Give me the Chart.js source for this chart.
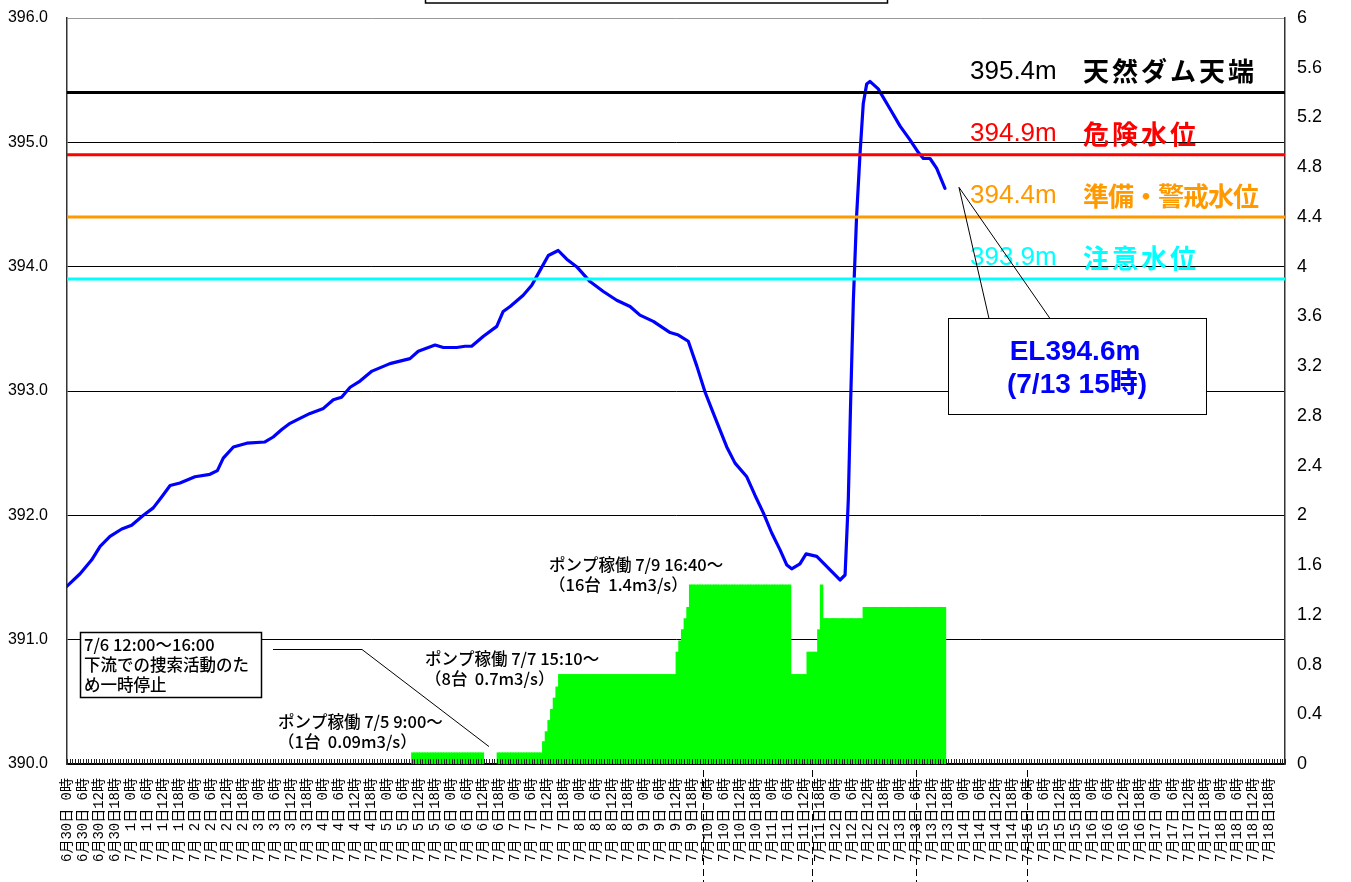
<!DOCTYPE html>
<html>
<head>
<meta charset="utf-8">
<script src="https://cdn.jsdelivr.net/npm/chart.js@4.4.0/dist/chart.umd.min.js"></script>
<style>
  html, body { margin: 0; padding: 0; background: #fff; }
</style>
</head>
<body>
<canvas id="damChart" width="1351" height="882"></canvas>
<script>
/* eslint-disable no-undef */
// 水位 (時間は 6/30 0時 からの経過時間)
const levelHours = [0, 4.9, 9.2, 12.4, 16.1, 20.5, 24.2, 28.6, 32.3, 35.5,
  38.6, 42.3, 47.9, 53.5, 56.3, 58.5, 62.3, 67.3, 74.1, 77.2,
  80.4, 83.5, 87.2, 91.0, 96.0, 99.7, 102.8, 106.0, 109.7, 114.2,
  120.9, 128.4, 131.5, 137.8, 140.9, 145.9, 149.0, 151.5, 155.9, 160.9,
  163.3, 165.9, 170.8, 174.0, 177.1, 180.2, 183.9, 187.1, 190.8, 195.8,
  200.8, 205.8, 210.8, 214.5, 219.5, 225.8, 228.9, 232.6, 235.8, 238.9,
  242.0, 247.0, 250.1, 254.5, 257.6, 260.7, 263.8, 267.0, 269.5, 271.3,
  274.4, 276.7, 280.7, 284.4, 289.4, 291.3, 292.5, 293.4, 294.4, 295.6,
  296.9, 298.1, 299.4, 300.6, 303.7, 308.1, 311.9, 315.6, 318.7, 320.6,
  323.1, 325.6, 328.7]
const levelValues = [391.43, 391.53, 391.64, 391.75, 391.83, 391.89, 391.92, 392.00, 392.06, 392.15,
  392.24, 392.26, 392.31, 392.33, 392.36, 392.46, 392.55, 392.58, 392.59, 392.63,
  392.69, 392.74, 392.78, 392.82, 392.86, 392.93, 392.95, 393.03, 393.08, 393.16,
  393.22, 393.26, 393.32, 393.37, 393.35, 393.35, 393.36, 393.36, 393.44, 393.52,
  393.64, 393.68, 393.77, 393.85, 393.97, 394.09, 394.13, 394.06, 394.00, 393.88,
  393.80, 393.73, 393.68, 393.61, 393.56, 393.47, 393.45, 393.40, 393.20, 392.99,
  392.82, 392.55, 392.42, 392.31, 392.16, 392.02, 391.86, 391.72, 391.60, 391.57,
  391.61, 391.69, 391.67, 391.59, 391.48, 391.52, 392.12, 392.93, 393.73, 394.40,
  394.91, 395.31, 395.47, 395.49, 395.43, 395.27, 395.13, 395.02, 394.92, 394.87,
  394.87, 394.79, 394.63]

// ポンプ排水量 (m3/s) : 変化した時刻とその後の値
const pumpStartHours = [129, 156, 161, 178, 179, 180, 181, 182, 183, 184, 228, 229, 230, 231, 232, 233, 271, 277, 281, 282, 283, 298, 329]
const pumpFlows = [0.09, 0, 0.09, 0.18, 0.26, 0.35, 0.44, 0.53, 0.62, 0.72, 0.9, 0.99, 1.08, 1.17, 1.26, 1.44, 0.72, 0.9, 1.08, 1.44, 1.17, 1.26, 0]

// 基準水位
const thresholdValues = [395.4, 394.9, 394.4, 393.9]
const thresholdNames = ['天然ダム天端', '危険水位', '準備・警戒水位', '注意水位']
const thresholdColors = ['#000000', '#ff0000', '#ff9900', '#00ffff']

// 軸
const dayLabels = ['6月30日', '7月 1日', '7月 2日', '7月 3日', '7月 4日', '7月 5日', '7月 6日', '7月 7日', '7月 8日', '7月 9日',
  '7月10日', '7月11日', '7月12日', '7月13日', '7月14日', '7月15日', '7月16日', '7月17日', '7月18日']
const hourLabels = [' 0', ' 6', '12', '18']
const leftTicks = [390, 391, 392, 393, 394, 395, 396]
const rightTicks = [0, 0.4, 0.8, 1.2, 1.6, 2, 2.4, 2.8, 3.2, 3.6, 4, 4.4, 4.8, 5.2, 5.6, 6]
const markHours = [238, 279, 318, 359.5]

const xTickLabels = []
const xTickHours = []
dayLabels.forEach((d, i) => {
  hourLabels.forEach((hh, j) => {
    xTickLabels.push(d + hh + '時')
    xTickHours.push(i * 24 + j * 6)
  })
})

// ポンプを1時間ごとの棒にする
const pumpBars = []
for (let i = 0; i < pumpStartHours.length - 1; i++) {
  for (let h = pumpStartHours[i]; h < pumpStartHours[i + 1]; h++) {
    if (pumpFlows[i] > 0) pumpBars.push({ x: h + 0.5, y: pumpFlows[i] })
  }
}

const levelPoints = levelHours.map((h, i) => ({ x: h, y: levelValues[i] }))

const JP = "'Noto Sans CJK JP', sans-serif"

function drawLines (ctx, lines, x, y, lh) {
  lines.forEach((t, i) => ctx.fillText(t, x, y + i * lh))
}

const decor = {
  id: 'decor',
  afterDatasetsDraw (chart) {
    const { ctx, chartArea: a, scales: { x } } = chart
    ctx.save()
    ctx.strokeStyle = '#222'
    ctx.lineWidth = 1
    ctx.beginPath()
    for (let h = 0; h <= 456; h++) {
      const px = Math.round(x.getPixelForValue(h)) + 0.5
      ctx.moveTo(px, a.bottom)
      ctx.lineTo(px, a.bottom - 5)
    }
    ctx.stroke()
    ctx.restore()
  },
  afterDraw (chart) {
    const { ctx, chartArea: a, scales: { x, y, y2 } } = chart
    ctx.save()

    // タイトル枠の下端
    ctx.strokeStyle = '#000'
    ctx.lineWidth = 1.5
    ctx.strokeRect(425.5, -10, 462, 13)

    // 日付の破線
    ctx.setLineDash([7, 4])
    ctx.lineWidth = 1
    markHours.forEach(h => {
      const px = Math.round(x.getPixelForValue(h)) + 0.5
      ctx.beginPath()
      ctx.moveTo(px, a.bottom + 6)
      ctx.lineTo(px, 882)
      ctx.stroke()
    })
    ctx.setLineDash([])

    // 基準水位の文字
    ctx.textBaseline = 'middle'
    thresholdValues.forEach((v, i) => {
      const py = y.getPixelForValue(v) - 21
      ctx.fillStyle = thresholdColors[i]
      ctx.letterSpacing = '0px'
      ctx.font = "26px 'Liberation Sans', sans-serif"
      ctx.fillText(v.toFixed(1) + 'm', 970, py)
      ctx.font = 'bold 26px ' + JP
      ctx.letterSpacing = thresholdNames[i].includes('・') ? '-1px' : '3px'
      ctx.fillText(thresholdNames[i], 1083, py)
    })
    ctx.letterSpacing = '0px'

    // 現在水位の吹き出し
    const last = levelPoints.length - 1
    const tipX = x.getPixelForValue(levelHours[last]) + 14
    const tipY = y.getPixelForValue(levelValues[last]) - 1
    ctx.fillStyle = '#fff'
    ctx.strokeStyle = '#000'
    ctx.lineWidth = 1
    ctx.fillRect(948.5, 318.5, 258, 96)
    ctx.strokeRect(948.5, 318.5, 258, 96)
    ctx.beginPath()
    ctx.moveTo(989, 318.5)
    ctx.lineTo(tipX, tipY)
    ctx.lineTo(1050, 318.5)
    ctx.stroke()
    ctx.fillStyle = '#0000ff'
    ctx.textAlign = 'center'
    ctx.font = "bold 28px 'Liberation Sans', " + JP
    ctx.fillText('EL' + levelValues[last].toFixed(1) + 'm', 1075, 352)
    ctx.fillText('(7/13 15時)', 1077, 385)
    ctx.textAlign = 'left'

    // 一時停止の吹き出し
    ctx.fillStyle = '#fff'
    ctx.fillRect(80.5, 632.5, 181, 65)
    ctx.lineWidth = 1.5
    ctx.strokeRect(80.5, 632.5, 181, 65)
    ctx.lineWidth = 1
    ctx.beginPath()
    ctx.moveTo(273, 649.5)
    ctx.lineTo(362, 649.5)
    ctx.lineTo(x.getPixelForValue(158), y2.getPixelForValue(0.14))
    ctx.stroke()
    ctx.fillStyle = '#000'
    ctx.font = '500 16.5px ' + JP
    drawLines(ctx, ['7/6 12:00～16:00', '下流での捜索活動のた', 'め一時停止'], 84, 645, 20)

    // ポンプ稼働の注記
    drawLines(ctx, ['ポンプ稼働 7/5 9:00～', '（1台  0.09m3/s）'], 278, 722, 20)
    drawLines(ctx, ['ポンプ稼働 7/7 15:10～', '（8台  0.7m3/s）'], 425, 659, 20)
    drawLines(ctx, ['ポンプ稼働 7/9 16:40～', '（16台  1.4m3/s）'], 549, 565, 20)

    ctx.restore()
  }
}

const datasets = thresholdValues.map((v, i) => ({
  type: 'line',
  data: [{ x: 0, y: v }, { x: 456, y: v }],
  borderColor: thresholdColors[i],
  borderWidth: 3,
  pointRadius: 0,
  yAxisID: 'y',
  order: 0
}))
datasets.push({
  type: 'line',
  data: levelPoints,
  borderColor: '#0000ff',
  borderWidth: 3.2,
  borderJoinStyle: 'round',
  borderCapStyle: 'round',
  pointRadius: 0,
  tension: 0,
  yAxisID: 'y',
  order: 1
})
datasets.push({
  type: 'bar',
  data: pumpBars,
  backgroundColor: '#00ff00',
  borderWidth: 0,
  barPercentage: 1,
  categoryPercentage: 1,
  inflateAmount: 0.4,
  yAxisID: 'y2',
  order: 2
})

const myChart = new Chart(document.getElementById('damChart'), {
  data: { datasets },
  plugins: [decor],
  options: {
    responsive: false,
    devicePixelRatio: 1,
    animation: false,
    events: [],
    layout: { padding: { top: 18, left: 0, right: 0, bottom: 0 } },
    plugins: { legend: { display: false }, tooltip: { enabled: false } },
    scales: {
      x: {
        type: 'linear',
        offset: false,
        min: 0,
        max: 456,
        afterBuildTicks: (scale) => { scale.ticks = xTickHours.map(v => ({ value: v })) },
        afterFit: (scale) => { scale.height = 118 },
        grid: { display: false, drawTicks: false },
        border: { display: true, color: '#000', width: 1.5 },
        ticks: {
          autoSkip: false,
          minRotation: 90,
          maxRotation: 90,
          padding: 14,
          color: '#000',
          font: { family: "'Liberation Mono', 'Noto Sans CJK JP'", size: 14 },
          callback: (value, index) => xTickLabels[index]
        }
      },
      y: {
        position: 'left',
        min: 390,
        max: 396,
        afterBuildTicks: (scale) => { scale.ticks = leftTicks.map(v => ({ value: v })) },
        afterFit: (scale) => { scale.width = 67 },
        grid: {
          color: (c) => (c.tick && c.tick.value === 396 ? '#999' : '#000'),
          lineWidth: 1,
          drawTicks: true,
          tickLength: 19,
          tickColor: 'rgba(0,0,0,0)'
        },
        border: { display: true, color: '#333', width: 1.5 },
        ticks: {
          padding: 0,
          color: '#000',
          font: { family: "'Liberation Sans', sans-serif", size: 16 },
          callback: (v) => Number(v).toFixed(1)
        }
      },
      y2: {
        position: 'right',
        min: 0,
        max: 6,
        afterBuildTicks: (scale) => { scale.ticks = rightTicks.map(v => ({ value: v })) },
        afterFit: (scale) => { scale.width = 66 },
        grid: {
          drawOnChartArea: false,
          drawTicks: true,
          tickLength: 12,
          tickColor: 'rgba(0,0,0,0)'
        },
        border: { display: true, color: '#333', width: 1.5 },
        ticks: {
          padding: 0,
          color: '#000',
          font: { family: "'Liberation Sans', sans-serif", size: 18 },
          callback: (v) => String(Math.round(v * 10) / 10)
        }
      }
    }
  }
})
</script>
</body>
</html>
